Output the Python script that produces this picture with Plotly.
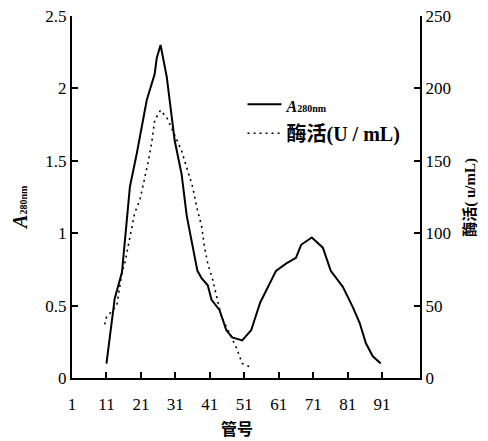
import plotly.graph_objects as go

# Solid curve: A280nm (left axis)
a280_tube = [11, 13.4, 15.5, 17, 17.8, 19.8, 22.7, 25, 25.6, 26.7, 28.5, 30.8, 32.8, 34.3,
             37.4, 38.6, 40.4, 41.5, 43.8, 45.8, 47.5, 50.4, 53, 55.6, 57.9, 60.2, 63.1,
             66, 67.5, 70.6, 73.8, 76.1, 79.6, 82.5, 84.5, 86.3, 88.3, 90.6]
a280_val = [0.10, 0.55, 0.73, 1.09, 1.32, 1.55, 1.92, 2.10, 2.21, 2.30, 2.08, 1.64, 1.41, 1.12,
            0.74, 0.69, 0.64, 0.54, 0.47, 0.33, 0.28, 0.26, 0.33, 0.52, 0.63, 0.74, 0.79,
            0.83, 0.92, 0.97, 0.90, 0.74, 0.63, 0.49, 0.38, 0.24, 0.15, 0.10]

# Dotted curve: enzyme activity U/mL (right axis)
enz_tube = [10.5, 11, 14, 15.5, 16.3, 18.6, 19.2, 20.7, 21.8, 23, 24.1, 25, 26.7, 28.7,
            30.2, 32.8, 34.2, 36, 37.4, 38.6, 39.5, 40.4, 41.8, 42.9, 44.4, 46.7, 48.7,
            50.4, 52.4]
enz_val = [37, 42, 50, 73, 79, 105, 114, 123, 134, 148, 162, 178, 185, 179,
           171, 157, 146, 132, 116, 105, 90, 79, 68, 57, 42, 31, 21, 10, 8]

x_ticks = [1, 11, 21, 31, 41, 51, 61, 71, 81, 91]
y_ticks = [0, 0.5, 1, 1.5, 2, 2.5]
y_tick_text = ["0", "0.5", "1", "1.5", "2", "2.5"]
y2_ticks = [0, 50, 100, 150, 200, 250]

serif = "Liberation Serif, Noto Sans CJK SC"
cjk = "Noto Sans CJK SC"

fig = go.Figure()
fig.add_trace(go.Scatter(
    x=a280_tube, y=a280_val, mode="lines",
    name="<span style='font-size:16px'><b><i>A</i></b></span>"
         "<span style='font-size:10px'><b>280nm</b></span>",
    line=dict(color="black", width=2),
    legendgroup="a", yaxis="y"))
fig.add_trace(go.Scatter(
    x=enz_tube, y=enz_val, mode="lines", name="<b>酶活(U / mL)</b>",
    line=dict(color="black", width=1.6, dash="2px,4px"),
    legendgroup="b", yaxis="y2"))

axis_common = dict(showline=True, linecolor="black", linewidth=2, ticks="inside",
                   ticklen=6, tickwidth=2, tickcolor="black", showgrid=False,
                   zeroline=False, automargin=False, ticklabeloverflow="allow",
                   tickfont=dict(family=serif, size=17, color="black"))

fig.update_layout(
    template="simple_white",
    width=480, height=433,
    margin=dict(l=64, r=68, t=8, b=63, autoexpand=False),
    paper_bgcolor="white", plot_bgcolor="white",
    xaxis=dict(range=[1, 102], tickvals=x_ticks, ticklabelstandoff=10, **axis_common),
    yaxis=dict(range=[0, 2.5], tickvals=y_ticks, ticktext=y_tick_text,
               ticksuffix="  ", **axis_common),
    yaxis2=dict(range=[0, 250], tickvals=y2_ticks, overlaying="y", side="right",
                tickprefix=" ", **axis_common),
    showlegend=True,
    legend=dict(x=0.49, y=0.81, xanchor="left", yanchor="top", bgcolor="rgba(0,0,0,0)",
                font=dict(family=serif, size=20, color="black"), tracegroupgap=0,
                itemwidth=34),
    annotations=[
        dict(text="<span style='font-size:20px'><b><i>A</i></b></span>"
                  "<span style='font-size:10px'><b>280nm</b></span>",
             xref="paper", yref="paper",
             x=-0.15, y=0.472, xanchor="center", yanchor="middle",
             textangle=-90, showarrow=False,
             font=dict(family=serif, size=20, color="black")),
        dict(text="<b>酶活( u/mL)</b>", xref="paper", yref="paper",
             x=1.143, y=0.5, xanchor="center", yanchor="middle",
             textangle=-90, showarrow=False,
             font=dict(family=serif, size=15, color="black")),
        dict(text="<b>管号</b>", xref="paper", yref="paper",
             x=0.474, y=-0.138, xanchor="center", yanchor="middle", showarrow=False,
             font=dict(family=cjk, size=16, color="black")),
    ],
)

fig.write_html("out.html")
